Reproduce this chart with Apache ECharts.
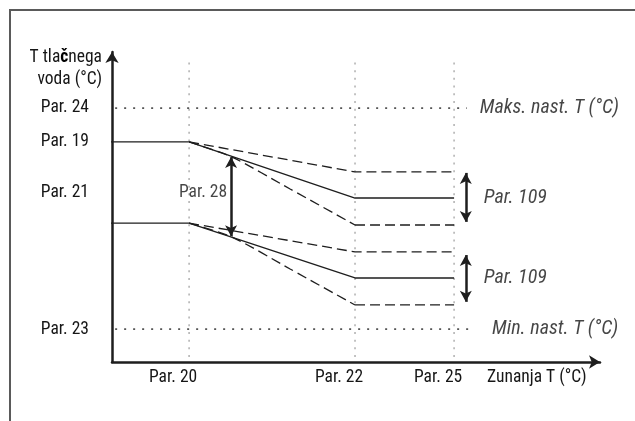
<!DOCTYPE html>
<html>
<head>
<meta charset="utf-8">
<script src="https://cdn.jsdelivr.net/npm/echarts@6/dist/echarts.min.js"></script>
<style>
  html, body { margin: 0; padding: 0; background: #fff; }
  #chart { width: 635px; height: 421px; }
</style>
</head>
<body>
<div id="chart"></div>
<script>
// Schematic heating curve: flow temperature vs. outside temperature.
// Both axes use schematic units from 0 to 100.

// Outside temperature axis
const xTickValues = [15.8, 49.8, 70.1];
const xTickLabels = ['Par. 20', 'Par. 22', 'Par. 25'];

// Flow temperature axis
const yTickValues = [81.9, 71.0, 54.5, 10.6];
const yTickLabels = ['Par. 24', 'Par. 19', 'Par. 21', 'Par. 23'];

// Curve starting from Par. 19
const curve19 = [[-3.5, 71.0], [15.8, 71.0], [49.8, 52.9], [70.1, 52.9]];
const curve19Upper = [[15.8, 71.0], [49.8, 61.3], [70.1, 61.3]];
const curve19LowerSlope = [[15.8, 71.0], [24.6, 66.1], [36.5, 55.8], [49.8, 44.2]];
const curve19LowerFlat = [[49.8, 44.2], [70.1, 44.2]];

// Curve starting from Par. 21
const curve21 = [[-3.5, 44.8], [15.8, 44.8], [49.8, 27.1], [70.1, 27.1]];
const curve21Upper = [[15.8, 44.8], [49.8, 35.5], [70.1, 35.5]];
const curve21LowerSlope = [[15.8, 44.8], [24.6, 40.3], [36.5, 30.0], [49.8, 18.4]];
const curve21LowerFlat = [[49.8, 18.4], [70.1, 18.4]];

// Set-point limits
const maxLimit = [[-1.2, 81.9], [72.7, 81.9]];
const minLimit = [[-1.2, 10.6], [74.4, 10.6]];

// Vertical guides at the outside-temperature parameters
const guideRange = [1.6, 96.8];

// Range arrows
const arrowPar28 = [[24.4, 66.1], [24.4, 40.6]];
const arrowPar109a = [[72.5, 61.0], [72.5, 45.2]];
const arrowPar109b = [[72.5, 34.5], [72.5, 19.4]];

// Annotations
const noteTexts = ['Par. 28', 'Par. 109', 'Par. 109', 'Maks. nast. T (°C)', 'Min. nast. T (°C)'];
const notePoints = [[24.4, 54.5], [72.5, 52.9], [72.5, 27.1], [72.7, 81.9], [74.4, 10.6]];

const xAxisTitle = 'Zunanja T (°C)';

const FONT = "'Roboto Condensed', Roboto, sans-serif";
const INK = '#1e1e1e';
const TEXT = '#161616';
const FS = 17.5;    // upright text
const FS_IT = 20;   // italic annotations

function nearestLabel(values, labels, v) {
  let best = 0;
  values.forEach((t, i) => { if (Math.abs(t - v) < Math.abs(values[best] - v)) best = i; });
  return labels[best];
}

function line(data, dash, extra) {
  return Object.assign({
    type: 'line',
    data: data,
    clip: false,
    showSymbol: false,
    symbol: 'none',
    silent: true,
    lineStyle: { color: INK, width: 1.3, type: dash || 'solid' },
    z: 3
  }, extra || {});
}

const series = [];

// guides
xTickValues.forEach(x => {
  series.push(line([[x, guideRange[0]], [x, guideRange[1]]], null,
    { lineStyle: { color: '#b4b4b4', width: 1.6, type: [2, 5.7] }, z: 1 }));
});
series.push(line(maxLimit, null, { lineStyle: { color: '#555', width: 1.6, type: [2, 7] }, z: 1 }));
series.push(line(minLimit, null, { lineStyle: { color: '#555', width: 1.6, type: [2, 7] }, z: 1 }));

// curves
const DASH = [10, 5];
series.push(line(curve19));
series.push(line(curve19Upper, DASH));
series.push(line(curve19LowerSlope, DASH, { smooth: 0.25 }));
series.push(line(curve19LowerFlat, DASH));
series.push(line(curve21));
series.push(line(curve21Upper, DASH));
series.push(line(curve21LowerSlope, DASH, { smooth: 0.25 }));
series.push(line(curve21LowerFlat, DASH));

// arrows
series.push({
  type: 'line',
  data: [],
  silent: true,
  markLine: {
    silent: true,
    animation: false,
    symbol: ['arrow', 'arrow'],
    symbolSize: [9, 11],
    label: { show: false },
    lineStyle: { color: INK, width: 2.5, type: 'solid' },
    data: [arrowPar28, arrowPar109a, arrowPar109b].map(a => [{ coord: a[0] }, { coord: a[1] }])
  }
});

// annotations
series.push({
  type: 'scatter',
  silent: true,
  symbolSize: 0,
  clip: false,
  z: 5,
  data: noteTexts.map((t, i) => {
    const italic = i > 0;
    return {
      name: t,
      value: notePoints[i],
      label: {
        show: true,
        formatter: '{b}',
        position: i === 0 ? 'left' : 'right',
        distance: i === 0 ? 4 : (i === 3 ? 13 : (i === 4 ? 17 : 18)),
        fontFamily: FONT,
        fontSize: italic ? FS_IT : FS,
        fontStyle: italic ? 'italic' : 'normal',
        color: TEXT
      }
    };
  })
});

const chart = echarts.init(document.getElementById('chart'), null, { renderer: 'canvas' });
chart.setOption({
  animation: false,
  backgroundColor: '#fff',
  title: {
    text: xAxisTitle,
    left: 487,
    top: 369,
    padding: 0,
    textStyle: { fontFamily: FONT, fontSize: FS, fontWeight: 'normal', color: TEXT }
  },
  grid: { left: 112, right: 35, top: 52, bottom: 59, containLabel: false },
  xAxis: {
    type: 'value',
    min: 0,
    max: 100,
    axisLine: {
      show: true, onZero: false,
      symbol: ['none', 'arrow'], symbolSize: [10, 11],
      lineStyle: { color: INK, width: 2.5 }
    },
    axisTick: { show: false },
    splitLine: { show: false },
    axisLabel: {
      customValues: xTickValues,
      formatter: v => nearestLabel(xTickValues, xTickLabels, v),
      margin: 7,
      padding: [0, 32, 0, 0],
      fontFamily: FONT, fontSize: FS, color: TEXT
    }
  },
  yAxis: {
    type: 'value',
    min: 0,
    max: 100,
    axisLine: {
      show: true, onZero: false,
      symbol: ['none', 'arrow'], symbolSize: [10, 11],
      lineStyle: { color: INK, width: 2.5 }
    },
    axisTick: { show: false },
    splitLine: { show: false },
    axisLabel: {
      customValues: yTickValues,
      formatter: v => nearestLabel(yTickValues, yTickLabels, v),
      margin: 23,
      fontFamily: FONT, fontSize: FS, color: TEXT
    },
    name: 'T tla{b|č}nega\nvoda (°C)',
    nameLocation: 'end',
    nameGap: -17,
    nameTextStyle: {
      align: 'right', verticalAlign: 'middle', padding: [0, 10, 0, 0],
      lineHeight: 22,
      fontFamily: FONT, fontSize: FS, color: TEXT,
      rich: { b: { fontFamily: FONT, fontSize: FS, fontWeight: 'bold', color: '#000', lineHeight: 22 } }
    }
  },
  graphic: [{
    type: 'polyline',
    silent: true,
    shape: { points: [[10, 421], [10, 10], [635, 10]] },
    style: { stroke: '#5a5a5a', lineWidth: 2, fill: null }
  }],
  series: series
});
</script>
</body>
</html>
